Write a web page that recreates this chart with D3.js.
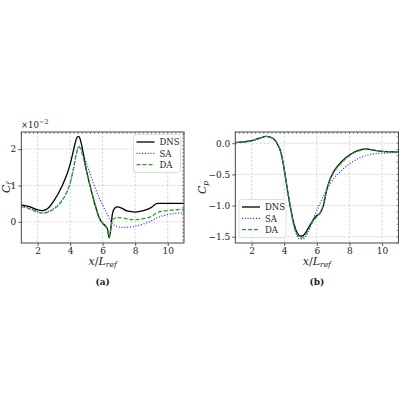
<!DOCTYPE html>
<html>
<head>
<meta charset="utf-8">
<script src="https://cdn.jsdelivr.net/npm/d3@7"></script>
<style>
  body { margin: 0; background: #fff; }
  svg { display: block; }
  text { font-family: "DejaVu Serif", serif; fill: #222; }
</style>
</head>
<body>
<svg id="chart" width="400" height="400"></svg>
<script>
"use strict";

// skin friction, panel (a)
const cfX   = [1, 1.5, 2, 2.3, 2.6, 3, 3.5, 3.8, 4, 4.2, 4.4, 4.5, 4.6, 4.75, 5, 5.25, 5.5, 5.8, 6, 6.2, 6.3, 6.4, 6.5, 6.6, 6.75, 6.9, 7.2, 7.5, 8, 8.5, 9, 9.3, 9.5, 10, 11];
const cfDNS = [0.47, 0.42, 0.33, 0.31, 0.36, 0.58, 0.98, 1.3, 1.58, 1.95, 2.3, 2.35, 2.3, 2.02, 1.42, 0.95, 0.52, 0.1, -0.04, -0.12, -0.2, -0.44, -0.2, 0.22, 0.38, 0.41, 0.37, 0.3, 0.27, 0.31, 0.4, 0.5, 0.51, 0.51, 0.51];
const cfSA  = [0.44, 0.38, 0.28, 0.25, 0.28, 0.37, 0.6, 0.82, 1.05, 1.42, 1.9, 2.08, 2.07, 1.92, 1.62, 1.3, 0.98, 0.65, 0.47, 0.28, 0.2, 0.1, 0.02, -0.05, -0.1, -0.13, -0.15, -0.15, -0.12, -0.06, 0.03, 0.1, 0.14, 0.2, 0.25];
const cfDA  = [0.42, 0.36, 0.27, 0.24, 0.26, 0.35, 0.58, 0.82, 1.07, 1.45, 1.9, 2.03, 2.04, 1.86, 1.4, 0.95, 0.55, 0.12, -0.03, -0.14, -0.2, -0.42, -0.2, 0.05, 0.1, 0.12, 0.11, 0.08, 0.06, 0.09, 0.15, 0.24, 0.28, 0.31, 0.35];

// pressure coefficient, panel (b)
const cpX   = [1, 1.5, 2, 2.5, 2.9, 3.3, 3.6, 3.8, 4, 4.2, 4.4, 4.6, 4.8, 5, 5.2, 5.5, 5.8, 6, 6.2, 6.4, 6.6, 6.8, 7, 7.5, 8, 8.5, 9, 9.5, 10, 11];
const cpDNS = [0.01, 0.02, 0.04, 0.08, 0.11, 0.08, -0.02, -0.15, -0.42, -0.75, -1.05, -1.3, -1.44, -1.49, -1.47, -1.35, -1.22, -1.16, -1.12, -1.0, -0.75, -0.58, -0.47, -0.3, -0.19, -0.12, -0.09, -0.11, -0.13, -0.14];
const cpSA  = [0.01, 0.02, 0.04, 0.08, 0.11, 0.08, -0.02, -0.15, -0.42, -0.76, -1.07, -1.34, -1.49, -1.54, -1.53, -1.4, -1.2, -1.08, -0.96, -0.85, -0.75, -0.66, -0.58, -0.44, -0.33, -0.25, -0.2, -0.17, -0.16, -0.15];
const cpDA  = [0.01, 0.02, 0.04, 0.08, 0.11, 0.08, -0.02, -0.15, -0.42, -0.76, -1.07, -1.33, -1.47, -1.52, -1.5, -1.38, -1.24, -1.18, -1.12, -0.98, -0.76, -0.6, -0.49, -0.32, -0.2, -0.13, -0.1, -0.11, -0.13, -0.14];

const xTicks = [2, 4, 6, 8, 10];
const cfTicks = [0, 1, 2];
const cpTicks = [0, -0.5, -1, -1.5];
const seriesNames = ["DNS", "SA", "DA"];

const styles = {
  DNS: {color: "#000000", dash: null, width: 1.3},
  SA:  {color: "#1f1fff", dash: "1,1.8", width: 1.2},
  DA:  {color: "#2ca02c", dash: "4,2", width: 1.3}
};

const svg = d3.select("#chart");

/**
 * Draws one panel: grid, curves, axes, labels and legend
 */
function panel(opts)
{
  const x = d3.scaleLinear().domain([1, 11]).range([opts.left, opts.right]);
  const y = d3.scaleLinear().domain(opts.yDomain).range([opts.bottom, opts.top]);
  const g = svg.append("g");

  // dashed grid
  g.selectAll(".gx").data(xTicks).join("line")
    .attr("x1", d => x(d)).attr("x2", d => x(d))
    .attr("y1", opts.top).attr("y2", opts.bottom)
    .attr("stroke", "#c8c8c8").attr("stroke-width", 0.7).attr("stroke-dasharray", "2.5,1.5");
  g.selectAll(".gy").data(opts.yTicks).join("line")
    .attr("y1", d => y(d)).attr("y2", d => y(d))
    .attr("x1", opts.left).attr("x2", opts.right)
    .attr("stroke", "#c8c8c8").attr("stroke-width", 0.7).attr("stroke-dasharray", "2.5,1.5");

  const clipId = "clip" + opts.name;
  svg.append("clipPath").attr("id", clipId).append("rect")
    .attr("x", opts.left).attr("y", opts.top)
    .attr("width", opts.right - opts.left).attr("height", opts.bottom - opts.top);

  const line = d3.line()
    .x((d, i) => x(opts.xs[i]))
    .y(d => y(d))
    .curve(d3.curveMonotoneX);

  seriesNames.forEach(name =>
  {
    const s = styles[name];
    g.append("path")
      .datum(opts.series[name])
      .attr("clip-path", "url(#" + clipId + ")")
      .attr("fill", "none")
      .attr("stroke", s.color)
      .attr("stroke-width", s.width)
      .attr("stroke-dasharray", s.dash)
      .attr("d", line);
  });

  // minor ticks, inward on top and right
  const minorX = d3.range(1, 11.001, 0.25);
  const minorY = d3.ticks(opts.yDomain[0], opts.yDomain[1], 24);
  g.selectAll(".mt").data(minorX).join("line")
    .attr("x1", d => x(d)).attr("x2", d => x(d))
    .attr("y1", opts.top).attr("y2", opts.top + 2)
    .attr("stroke", "#555").attr("stroke-width", 0.6);
  g.selectAll(".mr").data(minorY).join("line")
    .attr("y1", d => y(d)).attr("y2", d => y(d))
    .attr("x1", opts.right).attr("x2", opts.right - 2)
    .attr("stroke", "#555").attr("stroke-width", 0.6);

  const xAxis = g.append("g")
    .attr("transform", "translate(0," + opts.bottom + ")")
    .call(d3.axisBottom(x).tickValues(xTicks).tickSize(3).tickPadding(2).tickFormat(d3.format("d")));
  const yAxis = g.append("g")
    .attr("transform", "translate(" + opts.left + ",0)")
    .call(d3.axisLeft(y).tickValues(opts.yTicks).tickSize(3).tickPadding(2).tickFormat(opts.fmt));
  [xAxis, yAxis].forEach(a =>
  {
    a.attr("font-family", null);
    a.select(".domain").remove();
    a.selectAll("line").attr("stroke", "#333").attr("stroke-width", 0.8);
    a.selectAll("text").style("font-family", "\"DejaVu Serif\", serif")
      .style("font-size", "9px").attr("fill", "#333");
  });

  g.append("rect")
    .attr("x", opts.left).attr("y", opts.top)
    .attr("width", opts.right - opts.left).attr("height", opts.bottom - opts.top)
    .attr("fill", "none").attr("stroke", "#333").attr("stroke-width", 0.9);

  // axis labels
  const cx = (opts.left + opts.right) / 2;
  const xl = g.append("text").attr("x", cx).attr("y", opts.bottom + 22)
    .attr("text-anchor", "middle").style("font-size", "11px").style("font-style", "italic");
  xl.append("tspan").text("x");
  xl.append("tspan").style("font-style", "normal").text("/");
  xl.append("tspan").text("L");
  xl.append("tspan").attr("dy", 2).style("font-size", "7.5px").text("ref");

  const cy = (opts.top + opts.bottom) / 2;
  const yl = g.append("text")
    .attr("transform", "translate(" + opts.yLabelX + "," + cy + ") rotate(-90)")
    .attr("text-anchor", "middle").style("font-size", "11px").style("font-style", "italic");
  yl.append("tspan").text("C");
  yl.append("tspan").attr("dy", 2).style("font-size", "7.5px").text(opts.sub);

  g.append("text").attr("x", cx).attr("y", opts.bottom + 42)
    .attr("text-anchor", "middle").style("font-size", "9px").style("font-weight", "bold")
    .text(opts.caption);

  // legend
  const lg = g.append("g").attr("transform", "translate(" + opts.legend[0] + "," + opts.legend[1] + ")");
  lg.append("rect").attr("width", 47).attr("height", 38).attr("rx", 2.5)
    .attr("fill", "#fff").attr("fill-opacity", 0.85).attr("stroke", "#d6d6d6").attr("stroke-width", 0.8);
  seriesNames.forEach((name, i) =>
  {
    const s = styles[name];
    const ly = 7.5 + i * 11.3;
    lg.append("line").attr("x1", 3).attr("x2", 21).attr("y1", ly).attr("y2", ly)
      .attr("stroke", s.color).attr("stroke-width", s.width).attr("stroke-dasharray", s.dash);
    lg.append("text").attr("x", 26).attr("y", ly + 3.2).style("font-size", "8.5px").text(name);
  });

  return g;
}

const left = panel({
  name: "a", left: 21.3, right: 184, top: 132, bottom: 243,
  yDomain: [-0.58, 2.47], yTicks: cfTicks, fmt: d3.format("d"),
  xs: cfX, series: {DNS: cfDNS, SA: cfSA, DA: cfDA},
  sub: "f", yLabelX: 10, caption: "(a)", legend: [133.5, 134.5]
});

const multiplier = left.append("text").attr("x", 21).attr("y", 128).style("font-size", "8.5px");
multiplier.append("tspan").text("×10");
multiplier.append("tspan").attr("dy", -4).style("font-size", "6.5px").text("−2");

panel({
  name: "b", left: 235.3, right: 398.4, top: 132, bottom: 243,
  yDomain: [-1.6, 0.18], yTicks: cpTicks, fmt: d3.format(".1f"),
  xs: cpX, series: {DNS: cpDNS, SA: cpSA, DA: cpDA},
  sub: "p", yLabelX: 206, caption: "(b)", legend: [239, 199.5]
});
</script>
</body>
</html>
